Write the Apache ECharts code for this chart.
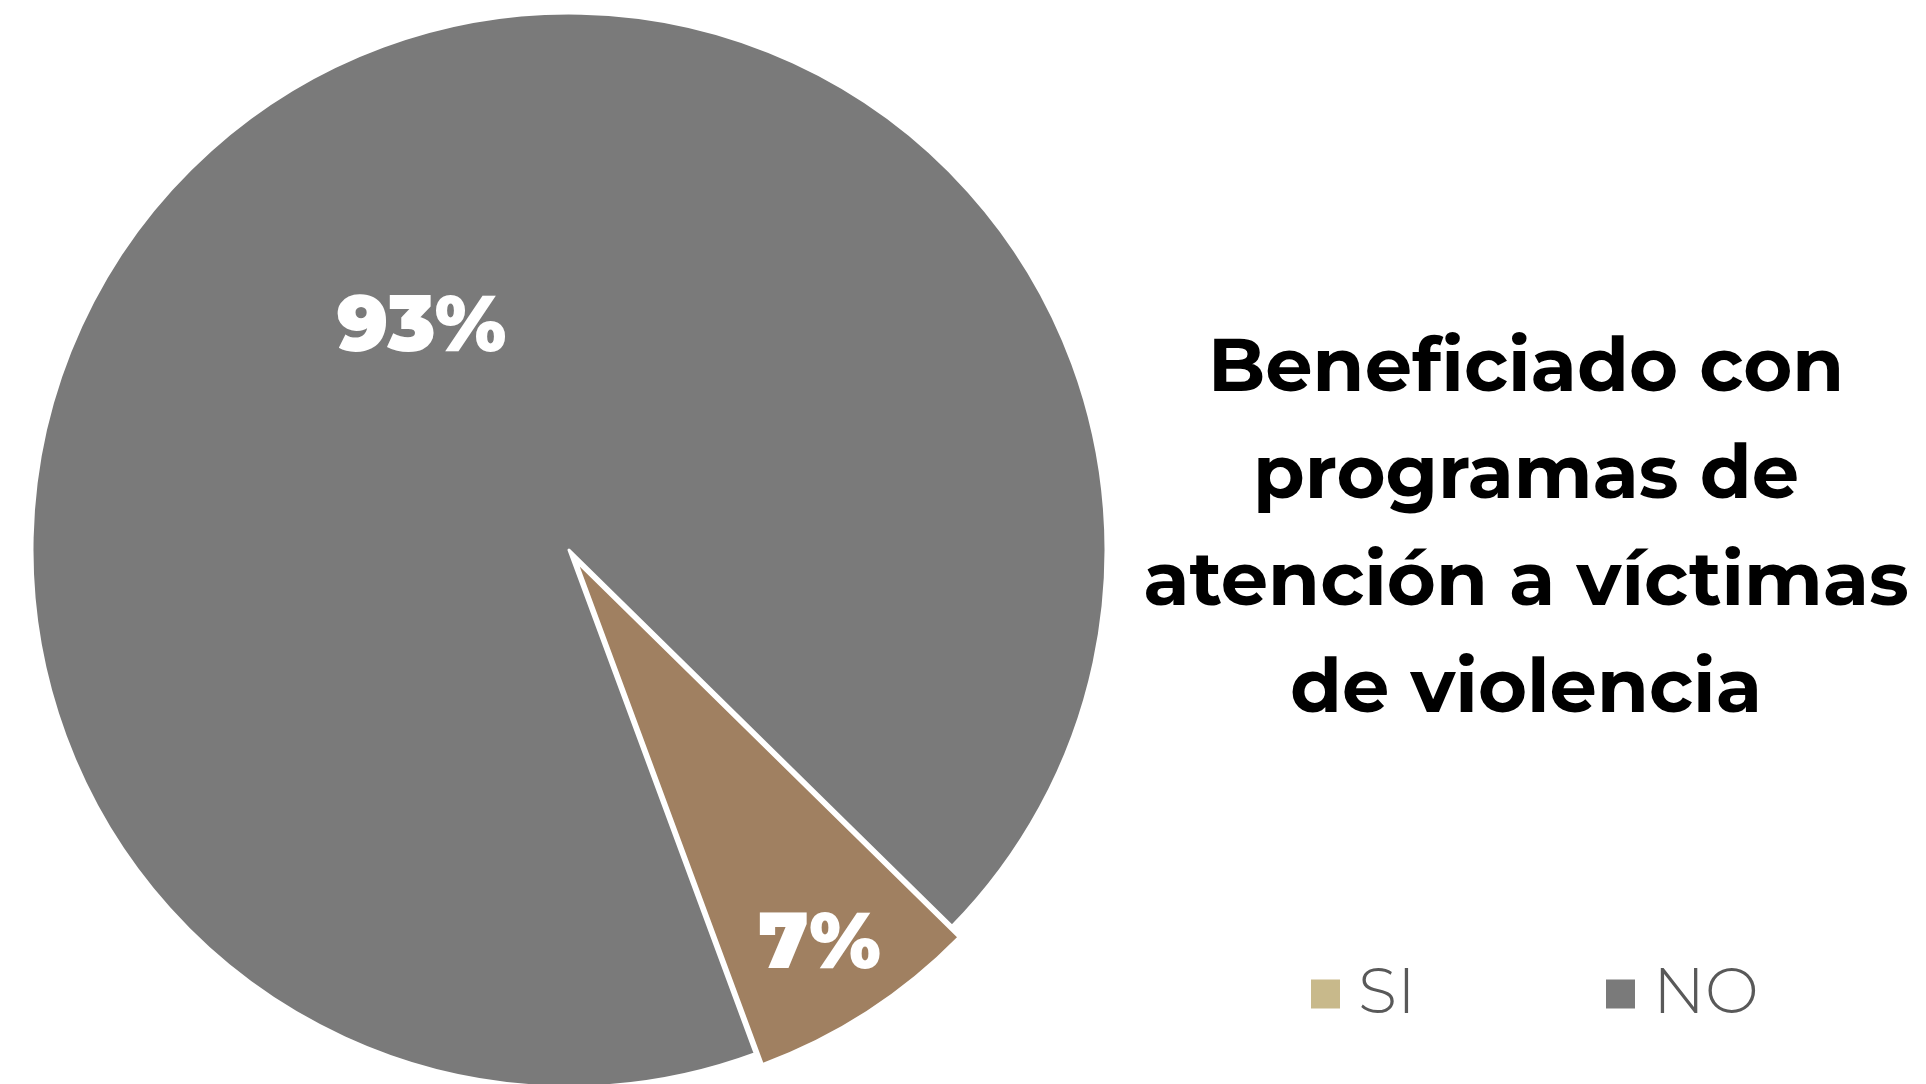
<!DOCTYPE html>
<html>
<head>
    <meta charset="utf-8">
    <title>Beneficiado con programas</title>
    <style>
        html, body { margin: 0; padding: 0; background: #fff; }
        #chart { width: 1926px; height: 1084px; }
    </style>
</head>
<body>
    <div id="chart"></div>
    <script src="https://cdn.jsdelivr.net/npm/echarts@6/dist/echarts.min.js"></script>
    <script>
        // datos
        var categorias = ['SI', 'NO'];
        var valores = [7, 93];
        var coloresPie = ['#a08061', '#7a7a7a'];
        var coloresLeyenda = ['#c8b98b', '#7a7a7a'];
        var titulo = 'Beneficiado con\nprogramas de\natención a víctimas\nde violencia';

        var fuenteNegrita = 'Montserrat, Inter, "Open Sans", sans-serif';
        var fuenteLigera = 'Montserrat, "Open Sans", Lato, sans-serif';

        var myChart = echarts.init(document.getElementById('chart'));

        var datos = categorias.map(function (c, i) {
            return {
                name: c,
                value: valores[i],
                selected: i === 0,
                itemStyle: { color: coloresPie[i] }
            };
        });

        var option = {
            animation: false,
            title: {
                text: titulo,
                left: 1521,
                top: 310,
                textAlign: 'center',
                textStyle: {
                    fontFamily: fuenteNegrita,
                    fontWeight: 700,
                    fontSize: 75,
                    lineHeight: 107,
                    color: '#000'
                }
            },
            legend: {
                left: 1304,
                top: 954,
                itemWidth: 31,
                itemHeight: 31,
                itemGap: 7,
                icon: 'rect',
                data: categorias.map(function (c, i) {
                    return { name: c, itemStyle: { color: coloresLeyenda[i] } };
                }),
                textStyle: {
                    fontFamily: fuenteLigera,
                    fontWeight: 300,
                    fontSize: 64,
                    lineHeight: 70,
                    color: '#595959',
                    width: 239,
                    padding: [0, 0, 0, 12]
                }
            },
            series: [{
                type: 'pie',
                center: [569, 550],
                radius: [0, 537],
                startAngle: -44.5,
                selectedMode: 'single',
                selectedOffset: 13,
                legendHoverLink: false,
                itemStyle: {
                    borderColor: '#fff',
                    borderWidth: 3
                },
                label: {
                    show: true,
                    position: 'inside',
                    formatter: '{c}%',
                    fontFamily: fuenteNegrita,
                    fontWeight: 900,
                    fontSize: 78,
                    color: '#fff'
                },
                labelLine: { show: false },
                labelLayout: function (params) {
                    // la etiqueta de SI va más cerca del borde
                    if (params.dataIndex === 0) {
                        return { dx: 96, dy: 156 };
                    }
                    return { dy: 6 };
                },
                emphasis: { disabled: true },
                data: datos
            }]
        };
        myChart.setOption(option);
    </script>
</body>
</html>
